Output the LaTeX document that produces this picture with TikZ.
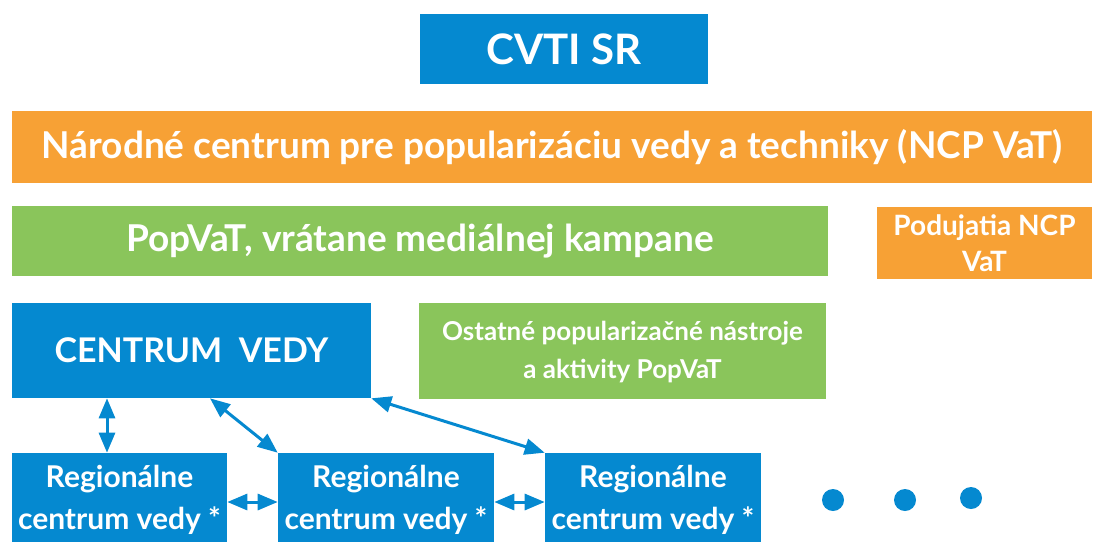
\documentclass[tikz,border=0pt]{standalone}
\usepackage{fontspec}
\setmainfont{Lato}
\usetikzlibrary{arrows.meta, positioning}
\definecolor{cvtiblue}{HTML}{0589D0}
\definecolor{ncporange}{HTML}{F7A135}
\definecolor{popgreen}{HTML}{8AC55B}

\tikzset{
  link/.style = {          % double arrow between centres
    {Triangle[length=20pt, width=16pt]}-{Triangle[length=20pt, width=16pt]},
    draw = cvtiblue, line width = 3pt
  }
}

\begin{document}
\begin{tikzpicture}[
      x = 1pt, y = -1pt,           % pixel-like units
      semithick
    ]

    \tikzstyle{B1}=[      % blue box
      fill = cvtiblue, text = white,
      inner sep = 0pt, align = center
    ]
    \tikzstyle{O1}=[      % orange box
      fill = ncporange, text = white,
      inner sep = 0pt, align = center
    ]
    \tikzstyle{G1}=[      % green box
      fill = popgreen, text = white,
      inner sep = 0pt, align = center
    ]

    \useasboundingbox (0,0) rectangle (1105,542);

    % Boxes
    \node[B1, minimum width = 288, minimum height = 70,
      font = \bfseries\fontsize{42}{46}\selectfont] (cvti) at (564,49) {CVTI SR};
    \node[O1, minimum width = 1080, minimum height = 72,
      font = \bfseries\fontsize{37}{42}\selectfont] (ncp) at (552,147)
      {Národné centrum pre popularizáciu vedy a techniky (NCP VaT)};
    \node[G1, minimum width = 816, minimum height = 70,
      font = \bfseries\fontsize{37}{42}\selectfont] (popvat) at (420,241)
      {PopVaT, vrátane mediálnej kampane};
    \node[O1, minimum width = 215, minimum height = 72,
      font = \bfseries\fontsize{28}{36}\selectfont] (podujatia) at (984.5,243)
      {Podujatia NCP\\VaT};
    \node[B1, minimum width = 359, minimum height = 95,
      font = \bfseries\fontsize{34}{40}\selectfont] (centrum) at (191.5,350.5)
      {CENTRUM\ \ VEDY};
    \node[G1, minimum width = 407, minimum height = 96,
      font = \bfseries\fontsize{26}{38}\selectfont] (ostatne) at (622.5,351)
      {\rule{0pt}{22pt}Ostatné popularizačné nástroje\\a aktivity PopVaT};

    % Regional centres
    \node[B1, minimum width = 215, minimum height = 89,
      font = \bfseries\fontsize{30}{41}\selectfont] (reg1) at (119.5,497.5)
      {\rule{0pt}{27pt}Regionálne\\centrum vedy *};
    \node[B1, minimum width = 216, minimum height = 89,
      font = \bfseries\fontsize{30}{41}\selectfont] (reg2) at (386,497.5)
      {\rule{0pt}{27pt}Regionálne\\centrum vedy *};
    \node[B1, minimum width = 216, minimum height = 89,
      font = \bfseries\fontsize{30}{41}\selectfont] (reg3) at (653,497.5)
      {\rule{0pt}{27pt}Regionálne\\centrum vedy *};

    % Dots
    \fill[cvtiblue] (833,500) circle (11) (905,500) circle (11) (971,498) circle (11);

    % Links
    \draw[link] (centrum.south -| 107,0) -- (reg1.north -| 107,0);
    \draw[link] (centrum.south -| 210,0) -- (reg2.north west);
    \draw[link] (centrum.south east) -- (reg3.north west);
    \draw[link] (reg1.east |- 0,502) -- (reg2.west |- 0,502);
    \draw[link] (reg2.east |- 0,502) -- (reg3.west |- 0,502);

  \end{tikzpicture}
\end{document}
